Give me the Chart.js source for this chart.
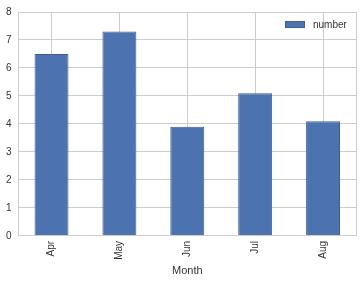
<!DOCTYPE html>
<html><head><meta charset="utf-8">
<script src="https://cdn.jsdelivr.net/npm/chart.js@4/dist/chart.umd.min.js"></script>
<style>html,body{margin:0;padding:0;background:#fff}#w{width:361px;height:283px}</style>
</head><body><div id="w"><canvas id="c"></canvas></div>
<script>
const categories = ["Apr", "May", "Jun", "Jul", "Aug"];
const numberValues = [6.5, 7.3, 3.9, 5.1, 4.1];
const yTicks = [0, 1, 2, 3, 4, 5, 6, 7, 8];
const seriesName = "number";
const xTitle = "Month";
const FONT = 'Arial, "Liberation Sans", sans-serif';

const frame = {
  id: 'frame',
  afterDraw(chart) {
    const a = chart.chartArea, ctx = chart.ctx;
    ctx.save();
    ctx.strokeStyle = '#cccccc';
    ctx.lineWidth = 1;
    ctx.strokeRect(Math.round(a.left) + 0.5, Math.round(a.top) + 0.5, Math.round(a.right - a.left) - 1, Math.round(a.bottom - a.top) - 1);
    // legend inside plot, top right
    const ds = chart.data.datasets[0];
    const bx = Math.round(a.right) - 72, by = Math.round(a.top) + 9;
    ctx.fillStyle = ds.backgroundColor;
    ctx.fillRect(bx, by, 20, 7);
    ctx.strokeStyle = ds.borderColor;
    ctx.strokeRect(bx + 0.5, by + 0.5, 19, 6);
    ctx.fillStyle = '#333';
    ctx.font = '10px ' + FONT;
    ctx.textBaseline = 'middle';
    ctx.textAlign = 'left';
    ctx.fillText(ds.label, bx + 28, by + 4);
    ctx.restore();
  }
};

new Chart(document.getElementById('c'), {
  type: 'bar',
  data: {
    labels: categories,
    datasets: [{
      label: seriesName,
      data: numberValues,
      backgroundColor: '#4c72b0',
      borderColor: '#3d5f96',
      borderWidth: 1,
      barPercentage: 0.5,
      categoryPercentage: 1.0
    }]
  },
  options: {
    responsive: true,
    maintainAspectRatio: false,
    animation: false,
    layout: { padding: { top: 5, right: 4, left: 0, bottom: 1 } },
    plugins: {
      legend: { display: false },
      tooltip: { enabled: false }
    },
    scales: {
      x: {
        grid: { offset: false, color: '#cccccc', drawTicks: false },
        border: { display: false },
        ticks: {
          color: '#333', maxRotation: 90, minRotation: 90, padding: 5,
          font: { family: FONT, size: 10 }
        },
        title: {
          display: true, text: xTitle, color: '#333', padding: { top: 0 },
          font: { family: FONT, size: 11 }
        }
      },
      y: {
        min: 0, max: 8,
        afterBuildTicks(s) { s.ticks = yTicks.map(v => ({ value: v })); },
        grid: { color: '#cccccc', drawTicks: false },
        border: { display: false },
        ticks: {
          color: '#333', padding: 6,
          font: { family: FONT, size: 10 }
        }
      }
    }
  },
  plugins: [frame]
});
</script></body></html>
